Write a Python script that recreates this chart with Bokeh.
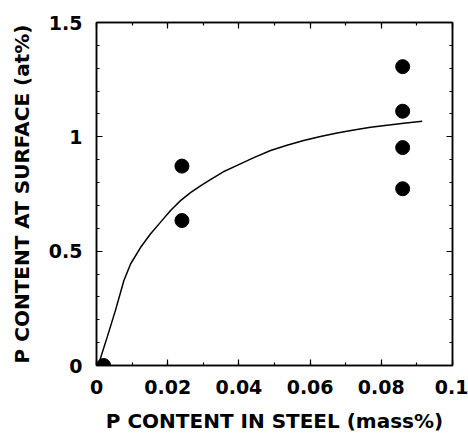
from bokeh.plotting import figure
from bokeh.models import LinearAxis, Range1d, SingleIntervalTicker, CustomJSTickFormatter
from bokeh.embed import file_html
from bokeh.resources import INLINE

# Measured points
x_pts = [0.002, 0.024, 0.024, 0.086, 0.086, 0.086, 0.086]
y_pts = [0.0, 0.872, 0.634, 1.307, 1.112, 0.953, 0.773]

# Fitted curve
x_curve = [0.0006, 0.003, 0.0053, 0.0077, 0.0096, 0.0124, 0.0152, 0.018, 0.0208,
           0.0236, 0.0264, 0.0292, 0.032, 0.0355, 0.0395, 0.0442, 0.0489, 0.0535,
           0.0582, 0.0629, 0.0676, 0.0723, 0.077, 0.0816, 0.0863, 0.0915]
y_curve = [0.007, 0.124, 0.24, 0.372, 0.445, 0.517, 0.576, 0.627, 0.678,
           0.721, 0.756, 0.786, 0.813, 0.846, 0.875, 0.909, 0.940, 0.963,
           0.984, 1.001, 1.017, 1.030, 1.042, 1.051, 1.059, 1.068]

x_label = "P CONTENT IN STEEL (mass%)"
y_label = "P CONTENT AT SURFACE (at%)"

p = figure(width=468, height=439, output_backend="svg", toolbar_location=None,
           x_range=Range1d(0, 0.1), y_range=Range1d(0, 1.5),
           min_border_left=96, min_border_right=16, min_border_top=22,
           min_border_bottom=74, x_axis_label=x_label, y_axis_label=y_label)
p.grid.visible = False
p.outline_line_color = "black"
p.outline_line_width = 1.5
p.background_fill_color = "white"
p.border_fill_color = "white"

p.line(x_curve, y_curve, line_color="black", line_width=1.5)
p.scatter(x_pts, y_pts, size=14, fill_color="black", line_color="black")

font = "DejaVu Sans"

def style(ax, labels=True, interval=0.02, minor=2):
    ax.ticker = SingleIntervalTicker(interval=interval, num_minor_ticks=minor)
    ax.axis_line_width = 1.5
    ax.major_tick_in = 6
    ax.major_tick_out = 0
    ax.minor_tick_in = 3
    ax.minor_tick_out = 0
    ax.major_tick_line_width = 1.2
    ax.minor_tick_line_width = 1.2
    if labels:
        ax.major_label_text_font = font
        ax.major_label_text_font_style = "bold"
        ax.major_label_text_font_size = "19px"
        ax.major_label_text_color = "black"
        ax.axis_label_text_font = font
        ax.axis_label_text_font_style = "bold"
        ax.axis_label_text_font_size = "20px"
        ax.axis_label_text_color = "black"
    else:
        ax.formatter = CustomJSTickFormatter(code="return ''")
        ax.major_label_standoff = 0

xa = p.xaxis[0]
style(xa, True, 0.02, 2)
xa.major_label_standoff = 14
xa.axis_label_standoff = 12
xa.major_label_overrides = {0: "0", 0.1: "0.1"}

ya = p.yaxis[0]
style(ya, True, 0.5, 5)
ya.major_label_standoff = 14
ya.axis_label_standoff = 12
ya.major_label_overrides = {0: "0", 1: "1"}

top = LinearAxis()
style(top, False, 0.02, 2)
p.add_layout(top, "above")
right = LinearAxis()
style(right, False, 0.5, 5)
p.add_layout(right, "right")

open("out.html", "w").write(file_html(p, INLINE))
